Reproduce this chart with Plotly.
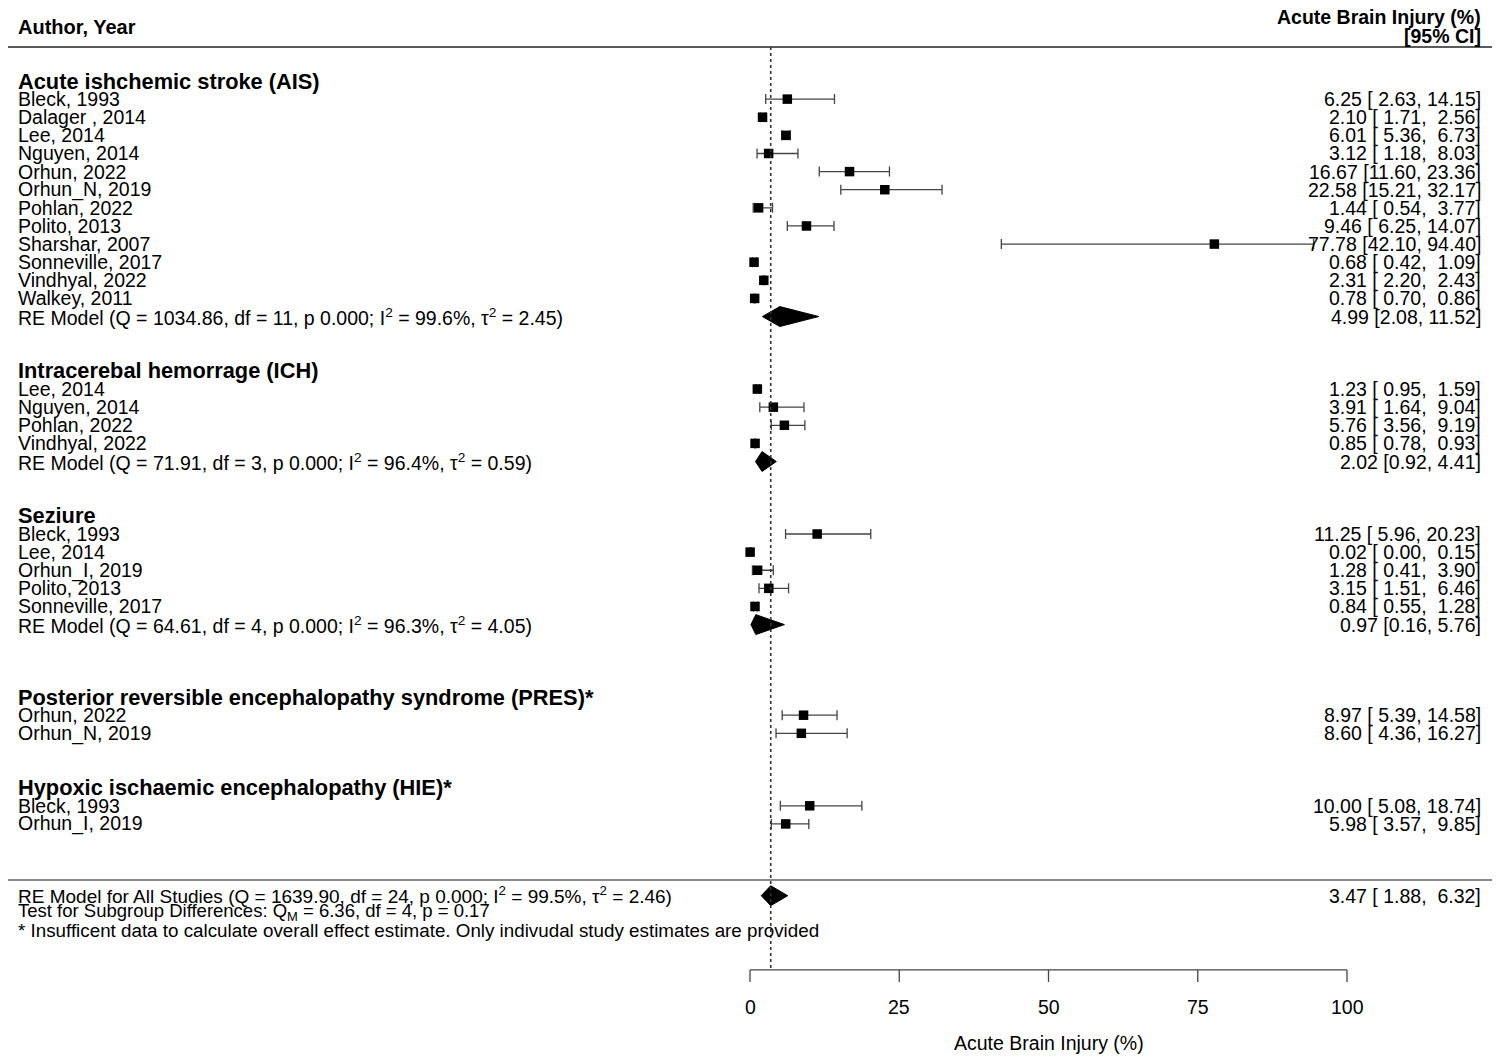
import plotly.graph_objects as go

# ---- data ----
group_names = [
    "Acute ishchemic stroke (AIS)",
    "Intracerebal hemorrage (ICH)",
    "Seziure",
    "Posterior reversible encephalopathy syndrome (PRES)*",
    "Hypoxic ischaemic encephalopathy (HIE)*",
]

ais_studies = ["Bleck, 1993", "Dalager , 2014", "Lee, 2014", "Nguyen, 2014", "Orhun, 2022",
               "Orhun_N, 2019", "Pohlan, 2022", "Polito, 2013", "Sharshar, 2007",
               "Sonneville, 2017", "Vindhyal, 2022", "Walkey, 2011"]
ais_est = [6.25, 2.10, 6.01, 3.12, 16.67, 22.58, 1.44, 9.46, 77.78, 0.68, 2.31, 0.78]
ais_lo = [2.63, 1.71, 5.36, 1.18, 11.60, 15.21, 0.54, 6.25, 42.10, 0.42, 2.20, 0.70]
ais_hi = [14.15, 2.56, 6.73, 8.03, 23.36, 32.17, 3.77, 14.07, 94.40, 1.09, 2.43, 0.86]

ich_studies = ["Lee, 2014", "Nguyen, 2014", "Pohlan, 2022", "Vindhyal, 2022"]
ich_est = [1.23, 3.91, 5.76, 0.85]
ich_lo = [0.95, 1.64, 3.56, 0.78]
ich_hi = [1.59, 9.04, 9.19, 0.93]

sez_studies = ["Bleck, 1993", "Lee, 2014", "Orhun_I, 2019", "Polito, 2013", "Sonneville, 2017"]
sez_est = [11.25, 0.02, 1.28, 3.15, 0.84]
sez_lo = [5.96, 0.00, 0.41, 1.51, 0.55]
sez_hi = [20.23, 0.15, 3.90, 6.46, 1.28]

pres_studies = ["Orhun, 2022", "Orhun_N, 2019"]
pres_est = [8.97, 8.60]
pres_lo = [5.39, 4.36]
pres_hi = [14.58, 16.27]

hie_studies = ["Bleck, 1993", "Orhun_I, 2019"]
hie_est = [10.00, 5.98]
hie_lo = [5.08, 3.57]
hie_hi = [18.74, 9.85]

# subgroup random-effects summaries (None = not pooled)
re_labels = [
    "RE Model (Q = 1034.86, df = 11, p 0.000; I<sup>2</sup> = 99.6%, τ<sup>2</sup> = 2.45)",
    "RE Model (Q = 71.91, df = 3, p 0.000; I<sup>2</sup> = 96.4%, τ<sup>2</sup> = 0.59)",
    "RE Model (Q = 64.61, df = 4, p 0.000; I<sup>2</sup> = 96.3%, τ<sup>2</sup> = 4.05)",
    None,
    None,
]
re_est = [4.99, 2.02, 0.97, None, None]
re_lo = [2.08, 0.92, 0.16, None, None]
re_hi = [11.52, 4.41, 5.76, None, None]

overall_label = "RE Model for All Studies (Q = 1639.90, df = 24, p 0.000; I<sup>2</sup> = 99.5%, τ<sup>2</sup> = 2.46)"
overall_est, overall_lo, overall_hi = 3.47, 1.88, 6.32
subgroup_test = "Test for Subgroup Differences: Q<sub>M</sub> = 6.36, df = 4, p = 0.17"
footnote = "* Insufficent data to calculate overall effect estimate. Only indivudal study estimates are provided"

x_ticks = [0, 25, 50, 75, 100]
x_title = "Acute Brain Injury (%)"

groups = [
    (ais_studies, ais_est, ais_lo, ais_hi),
    (ich_studies, ich_est, ich_lo, ich_hi),
    (sez_studies, sez_est, sez_lo, sez_hi),
    (pres_studies, pres_est, pres_lo, pres_hi),
    (hie_studies, hie_est, hie_lo, hie_hi),
]

# ---- layout helpers ----
# page has an 8px body margin, figure is sized to fill the rest of the window
OFF = 8
W, H = 1500 - OFF, 1058 - OFF
NB = "\u00a0"
FONT = "Liberation Sans, Arial, sans-serif"
FS = 19.5
LEFT = (17 - OFF) / W
RIGHT = (1482 - OFF) / W
gaps_before = [0, 2, 2, 3, 2]


def pad(v, w=5):
    s = f"{v:.2f}"
    return NB * (w - len(s)) + s


def ci_text(e, lo, hi, padded=True):
    if padded:
        return f"{e:.2f}{NB}[{pad(lo)},{NB}{pad(hi)}]"
    return f"{e:.2f}{NB}[{lo:.2f},{NB}{hi:.2f}]"


fig = go.Figure()
ann = []


def left_text(y, text, bold=False, size=FS):
    ann.append(dict(x=LEFT, xref="paper", y=y, yref="y", text=f"<b>{text}</b>" if bold else text,
                    showarrow=False, xanchor="left", yanchor="middle", borderpad=0,
                    font=dict(family=FONT, size=size, color="black")))


def right_text(y, text, bold=False, size=FS):
    ann.append(dict(x=RIGHT, xref="paper", y=y, yref="y", text=f"<b>{text}</b>" if bold else text,
                    showarrow=False, xanchor="right", yanchor="middle", borderpad=0,
                    font=dict(family=FONT, size=size, color="black")))


def diamond(y, e, lo, hi, h=0.55):
    fig.add_trace(go.Scatter(x=[lo, e, hi, e, lo], y=[y, y - h, y, y + h, y],
                             mode="lines", fill="toself", fillcolor="black",
                             line=dict(color="black", width=1), hoverinfo="skip",
                             showlegend=False))


row = 0
pt_x, pt_y, pt_lo, pt_hi = [], [], [], []
for gi, (names, est, lo, hi) in enumerate(groups):
    row += gaps_before[gi]
    left_text(row, group_names[gi], bold=True, size=21.8)
    row += 1
    for n, e, l, h in zip(names, est, lo, hi):
        left_text(row, n)
        right_text(row, ci_text(e, l, h))
        pt_x.append(e)
        pt_y.append(row)
        pt_lo.append(e - l)
        pt_hi.append(h - e)
        row += 1
    if re_labels[gi] is not None:
        left_text(row, re_labels[gi])
        right_text(row, ci_text(re_est[gi], re_lo[gi], re_hi[gi], padded=False))
        diamond(row, re_est[gi], re_lo[gi], re_hi[gi])
        row += 1

# study squares with CI whiskers
fig.add_trace(go.Scatter(
    x=pt_x, y=pt_y, mode="markers",
    marker=dict(symbol="square", size=9.5, color="black"),
    error_x=dict(type="data", symmetric=False, array=pt_hi, arrayminus=pt_lo,
                 color="#444444", thickness=1.3, width=5),
    hoverinfo="skip", showlegend=False))

# overall summary block
sep_row = row + 2.1
ov_row = sep_row + 0.86
diamond(ov_row, overall_est, overall_lo, overall_hi)
left_text(ov_row - 0.04, overall_label, size=19)
right_text(ov_row, ci_text(overall_est, overall_lo, overall_hi))
left_text(ov_row + 0.92, subgroup_test, size=18.5)
left_text(ov_row + 1.9, footnote, size=18.8)

axis_row = ov_row + 4.1
top_rule = -1.88

# header
left_text(-2.98, "Author, Year", bold=True, size=20)
right_text(-3.52, "Acute Brain Injury (%)", bold=True, size=19.5)
right_text(-2.5, "[95% CI]", bold=True, size=19.5)

shapes = [
    dict(type="line", xref="paper", yref="y", x0=0, x1=1, y0=top_rule, y1=top_rule,
         line=dict(color="#5a5a5a", width=2)),
    dict(type="line", xref="paper", yref="y", x0=0, x1=1, y0=sep_row, y1=sep_row,
         line=dict(color="#8a8a8a", width=2)),
    dict(type="line", xref="x", yref="y", x0=overall_est, x1=overall_est, y0=top_rule, y1=axis_row,
         line=dict(color="#333333", width=1.6, dash="dot")),
    dict(type="line", xref="x", yref="y", x0=x_ticks[0], x1=x_ticks[-1], y0=axis_row, y1=axis_row,
         line=dict(color="#444444", width=1.3)),
]
for t in x_ticks:
    shapes.append(dict(type="line", xref="x", yref="y", x0=t, x1=t, y0=axis_row, y1=axis_row + 0.66,
                       line=dict(color="#444444", width=1.3)))
    ann.append(dict(x=t, xref="x", y=axis_row + 2.04, yref="y", text=str(t), showarrow=False,
                    xanchor="center", yanchor="middle", font=dict(family=FONT, size=FS, color="black")))
ann.append(dict(x=(x_ticks[0] + x_ticks[-1]) / 2, xref="x", y=axis_row + 4.03, yref="y", text=x_title,
                showarrow=False, xanchor="center", yanchor="middle",
                font=dict(family=FONT, size=FS, color="black")))

px_per_unit = 5.97
px_per_row = 18.12
x0_px = 750 - OFF
y0_px = 81 - OFF
fig.update_layout(
    width=W, height=H,
    margin=dict(l=0, r=0, t=0, b=0),
    paper_bgcolor="white", plot_bgcolor="white",
    showlegend=False,
    annotations=ann, shapes=shapes,
    xaxis=dict(range=[-x0_px / px_per_unit, (W - x0_px) / px_per_unit], visible=False,
               showgrid=False, zeroline=False),
    yaxis=dict(range=[(H - y0_px) / px_per_row, -y0_px / px_per_row], visible=False,
               showgrid=False, zeroline=False),
)

fig.write_html("out.html")
